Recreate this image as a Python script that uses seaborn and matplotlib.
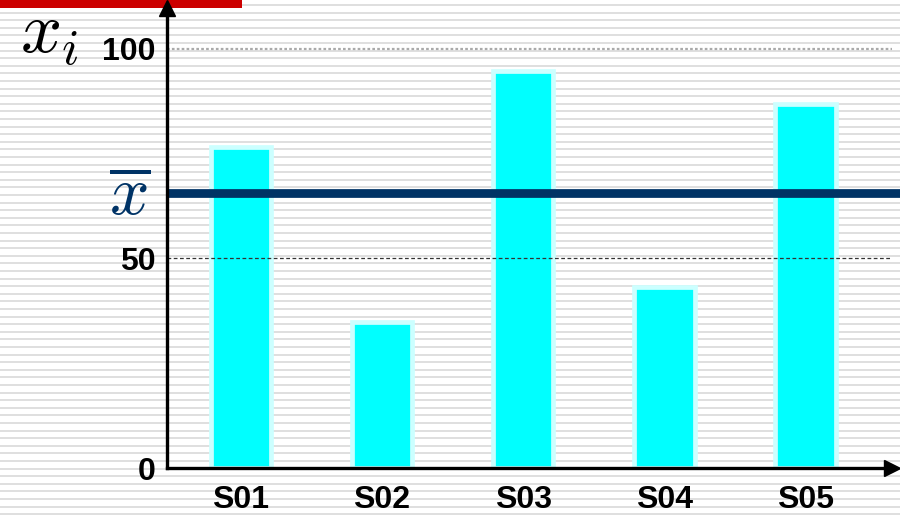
import numpy as np
import pandas as pd
import matplotlib
matplotlib.use('Agg')
import matplotlib.pyplot as plt
import seaborn as sns

# data
samples = ['S01', 'S02', 'S03', 'S04', 'S05']
values = [76.6, 34.9, 94.7, 43.2, 86.7]
xbar = 65.5
yticks = [0, 50, 100]

df = pd.DataFrame({'sample': samples, 'value': values})

sns.set_theme(style='white')
plt.rcParams['font.family'] = ['Liberation Sans', 'DejaVu Sans']
plt.rcParams['mathtext.fontset'] = 'cm'

W, H = 900, 516
fig = plt.figure(figsize=(9, 5.16), dpi=100)
fig.patch.set_facecolor('white')

# striped slide background
bg = fig.add_axes([0, 0, 1, 1], zorder=-5)
bg.set_xlim(0, W)
bg.set_ylim(H, 0)
bg.axis('off')
for yy in np.arange(5.0, H, 7.6):
    bg.axhline(yy, color='#dcdcdc', lw=1.3, zorder=1)
# red title bar
bg.add_patch(plt.Rectangle((0, 0), 242, 8, color='#cc0000', lw=0, zorder=5))

# main axes placed to match the reference
x0, xr, y0, yt = 167, 891.5, 468.1, 7.5
ax = fig.add_axes([x0 / W, 1 - y0 / H, (xr - x0) / W, (y0 - yt) / H])
ax.patch.set_alpha(0)

sns.barplot(data=df, x='sample', y='value', color='#00ffff', width=0.427,
            edgecolor='#ccffff', linewidth=3.4, saturation=1, ax=ax, zorder=3)

ax.set_xlim(-0.5227, 4.608)
ax.set_ylim(0, (y0 - yt) / 4.196)

# grid lines (drawn over the bars, as in the reference)
ax.axhline(50, color='#333333', lw=0.9, ls=(0, (3, 2)), zorder=4)
ax.axhline(100, color='#aaaaaa', lw=1.6, ls=(0, (1.2, 1)), zorder=4)

# mean line
ax.axhline(xbar, xmin=0, xmax=(W - x0) / (xr - x0), color='#003366', lw=6.3,
           solid_capstyle='butt', clip_on=False, zorder=5)

# axes with arrows
for s in ['top', 'right']:
    ax.spines[s].set_visible(False)
for s in ['left', 'bottom']:
    ax.spines[s].set_color('black')
    ax.spines[s].set_linewidth(2.4)
    ax.spines[s].set_zorder(6)
ax.plot(1, 0, '>', color='black', ms=11, transform=ax.transAxes, clip_on=False, zorder=7)
ax.plot(0, 1, '^', color='black', ms=11, transform=ax.transAxes, clip_on=False, zorder=7)

ax.set_yticks(yticks)
ax.set_yticklabels([str(t) for t in yticks], fontsize=23, fontweight='bold')
ax.set_xticks(range(len(samples)))
ax.set_xticklabels(samples, fontsize=23, fontweight='bold')
ax.tick_params(axis='both', length=0, colors='black')
ax.tick_params(axis='y', pad=8)
ax.tick_params(axis='x', pad=12)
ax.set_xlabel('')
ax.set_ylabel('')

# math labels
fig.text(20 / W, 1 - 53 / H, r'$x_i$', fontsize=52, va='baseline', ha='left', color='black')
fig.text(109 / W, 1 - 215 / H, r'$\overline{x}$', fontsize=50, va='baseline', ha='left', color='#003366')

fig.savefig('out.png', dpi=100)
